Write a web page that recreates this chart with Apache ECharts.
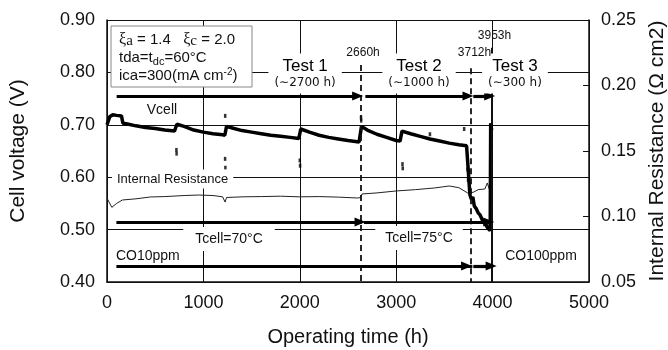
<!DOCTYPE html>
<html>
<head>
<meta charset="utf-8">
<script src="https://cdn.jsdelivr.net/npm/echarts@6/dist/echarts.min.js"></script>
<style>
  html, body { margin: 0; padding: 0; background: #fff; }
  #chart { width: 668px; height: 350px; }
</style>
</head>
<body>
<div id="chart"></div>
<script>
// 电压曲线 [运行时间 h, 电压 V]
var vcell = [
  [0, 0.700], [20, 0.701], [30, 0.716], [60, 0.719], [100, 0.718], [150, 0.717], [165, 0.703],
  [200, 0.702], [300, 0.698], [400, 0.695], [500, 0.693], [600, 0.690], [700, 0.688], [715, 0.687],
  [725, 0.701], [800, 0.697], [900, 0.690], [1000, 0.686], [1100, 0.683], [1200, 0.681], [1222, 0.680],
  [1240, 0.697], [1300, 0.694], [1400, 0.689], [1500, 0.686], [1600, 0.683], [1700, 0.680],
  [1800, 0.678], [1900, 0.676], [1990, 0.674], [2010, 0.692], [2100, 0.686], [2200, 0.680], [2300, 0.676],
  [2400, 0.673], [2500, 0.670], [2615, 0.667], [2640, 0.697], [2700, 0.690], [2800, 0.682],
  [2900, 0.676], [3000, 0.670], [3040, 0.669], [3060, 0.688], [3150, 0.683], [3250, 0.678], [3350, 0.673],
  [3450, 0.669], [3550, 0.665], [3650, 0.662], [3730, 0.660], [3745, 0.620], [3755, 0.592], [3765, 0.566],
  [3780, 0.558], [3795, 0.562], [3810, 0.545], [3830, 0.540], [3850, 0.532], [3870, 0.528], [3895, 0.518],
  [3920, 0.512], [3950, 0.503], [3975, 0.498], [3980, 0.703], [3990, 0.690]
];
// 电压离散点
var vcellDots = [
  [720, 0.652], [722, 0.645], [1225, 0.635], [1228, 0.618], [1226, 0.717], [2000, 0.632], [2003, 0.622],
  [2635, 0.714], [2637, 0.708], [3065, 0.625], [3068, 0.617], [3350, 0.682], [3705, 0.692],
  [3740, 0.615], [3745, 0.595]
];
// 内阻曲线 [运行时间 h, 内阻 Ω cm2]
var resistance = [
  [0, 0.114], [50, 0.107], [100, 0.110], [160, 0.1126], [300, 0.1135], [450, 0.1149], [600, 0.1152],
  [800, 0.1160], [950, 0.1164], [1100, 0.1160], [1200, 0.1150], [1225, 0.111], [1240, 0.1145],
  [1400, 0.1150], [1600, 0.1152], [1800, 0.1155], [2000, 0.1150], [2200, 0.1152], [2400, 0.1148],
  [2600, 0.1141], [2630, 0.1145], [2645, 0.1172], [2800, 0.1180], [3000, 0.1195], [3200, 0.1205],
  [3400, 0.1218], [3550, 0.1233], [3650, 0.1220], [3740, 0.1180], [3800, 0.1185], [3850, 0.1205],
  [3920, 0.1210], [3945, 0.1256], [3965, 0.1210]
];
// 阶段箭头 [起点 h, 终点 h, 电压位置]
var arrowsTop = [[100, 2600, 0.755], [2680, 3745, 0.755], [3800, 3970, 0.755]];
var arrowsTcell = [[100, 2625, 0.5145], [2665, 3960, 0.5145]];
var arrowsCO = [[100, 3730, 0.4305], [3800, 3985, 0.4305]];
var arrowLines = [[100, 2640, 0.5145], [100, 3790, 0.4305]];
// 切换时刻虚线 [h, 顶端电压]
var markerDashed = [[2635, 0.814], [3775, 0.808]];
var markerSolid = [[3990, 0.847]];
// 阶段标签
var testNames = ['Test 1', 'Test 2', 'Test 3'];
var testHours = ['(∼2700 h)', '(∼1000 h)', '(∼300 h)'];
var testCenters = [2055, 3237, 4232];
var hourLabels = [['2660h', 2656, 0.837], ['3712h', 3812, 0.837], ['3953h', 4020, 0.871]];

var chart = echarts.init(document.getElementById('chart'));
var FONT = 'Liberation Sans, Arial, DejaVu Sans, sans-serif';

function arrowData(list) {
  return list.map(function (a) {
    return [{ coord: [a[0], a[2]], symbol: 'none' }, { coord: [a[1], a[2]], symbol: 'triangle' }];
  });
}
function plainData(list) {
  return list.map(function (a) {
    return [{ coord: [a[0], a[2]], symbol: 'none' }, { coord: [a[1], a[2]], symbol: 'none' }];
  });
}
function vertData(list) {
  return list.map(function (m) {
    return [{ coord: [m[0], m[1]] }, { coord: [m[0], 0.40] }];
  });
}

chart.setOption({
  animation: false,
  grid: { left: 107, right: 79, top: 20, bottom: 68, outerBoundsMode: 'none', containLabel: false },
  textStyle: { fontFamily: FONT },
  xAxis: {
    type: 'value', min: 0, max: 5000, interval: 1000,
    name: 'Operating time (h)', nameLocation: 'middle', nameGap: 45,
    nameTextStyle: { fontSize: 20, color: '#111', fontFamily: FONT },
    axisLine: { lineStyle: { color: '#111', width: 1.5 } },
    axisTick: { show: false },
    axisLabel: { fontSize: 18, color: '#111', margin: 12, fontFamily: FONT,
      formatter: function (v) { return String(v); } },
    splitLine: { show: true, lineStyle: { color: '#111', width: 1 } }
  },
  yAxis: [{
    type: 'value', min: 0.4, max: 0.9, interval: 0.1,
    name: 'Cell voltage (V)', nameLocation: 'middle', nameGap: 78, nameRotate: 90,
    nameTextStyle: { fontSize: 21, color: '#111', fontFamily: FONT },
    axisLine: { show: true, lineStyle: { color: '#111', width: 1.5 } },
    axisTick: { show: false },
    axisLabel: { fontSize: 18, color: '#111', margin: 12, fontFamily: FONT,
      formatter: function (v) { return v.toFixed(2); } },
    splitLine: { show: true, lineStyle: { color: '#111', width: 1 } }
  }, {
    type: 'value', min: 0.05, max: 0.25, interval: 0.05, position: 'right',
    name: 'Internal Resistance (Ω cm2)', nameLocation: 'middle', nameGap: 55, nameRotate: 90,
    nameTextStyle: { fontSize: 21, color: '#111', fontFamily: FONT },
    axisLine: { show: true, lineStyle: { color: '#111', width: 1.5 } },
    axisTick: { show: true, inside: true, length: 6, lineStyle: { color: '#111' } },
    axisLabel: { fontSize: 18, color: '#111', margin: 12, fontFamily: FONT,
      formatter: function (v) { return v.toFixed(2); } },
    splitLine: { show: false }
  }],
  series: [{
    name: 'markers', type: 'line', data: [], silent: true,
    markLine: {
      silent: true, symbol: 'none', label: { show: false },
      data: vertData(markerDashed),
      lineStyle: { color: '#111', width: 1.8, type: [6, 4] }
    }
  }, {
    name: 'markerSolid', type: 'line', data: [], silent: true,
    markLine: {
      silent: true, symbol: 'none', label: { show: false },
      data: vertData(markerSolid),
      lineStyle: { color: '#111', width: 1, type: 'solid' }
    }
  }, {
    name: 'Internal Resistance', type: 'line', yAxisIndex: 1, data: resistance,
    showSymbol: false, lineStyle: { color: '#222', width: 1 }
  }, {
    name: 'Vcell', type: 'line', data: vcell, showSymbol: false,
    lineStyle: { color: '#000', width: 3.5 }
  }, {
    name: 'Vcell dots', type: 'scatter', data: vcellDots, symbol: 'rect',
    symbolSize: [2.5, 4], itemStyle: { color: '#000' }
  }, {
    name: 'arrows', type: 'line', data: [], silent: true,
    markLine: {
      silent: true, label: { show: false }, symbolSize: [9, 11],
      data: arrowData(arrowsTop.concat(arrowsTcell, arrowsCO)).concat(plainData(arrowLines)),
      lineStyle: { color: '#000', width: 3.2, type: 'solid' }
    }
  }]
});

function px(h, v) { return chart.convertToPixel({ xAxisIndex: 0, yAxisIndex: 0 }, [h, v]); }

function label(text, h, v, size, opts) {
  var p = px(h, v);
  opts = opts || {};
  return {
    type: 'text', x: p[0], y: p[1], z: 100,
    style: {
      text: text, font: size + 'px ' + FONT, fill: '#111',
      align: opts.align || 'center', verticalAlign: 'middle',
      backgroundColor: opts.bg ? '#fff' : null,
      padding: opts.padding || 0
    }
  };
}

var graphics = [];
// 参数框
graphics.push({
  type: 'rect', z: 100, shape: { x: 111, y: 26, width: 141, height: 61 },
  style: { fill: '#fff', stroke: '#888', lineWidth: 1 }
});
graphics.push({
  type: 'text', z: 101, x: 119, y: 31,
  style: {
    text: '{g|ξ}{s|a}{n| = 1.4   }{g|ξ}{s|c}{n| = 2.0}\n{n|tda=t}{sub|dc}{n|=60°C}\n{n|ica=300(mA cm}{sup|-2}{n|)}',
    font: '15px ' + FONT, fill: '#111',
    rich: {
      n: { fontSize: 15, fontFamily: FONT, lineHeight: 18, fill: '#111' },
      g: { fontSize: 16, fontFamily: 'Liberation Serif, serif', lineHeight: 18, fill: '#111' },
      s: { fontSize: 15, fontFamily: 'Liberation Serif, serif', lineHeight: 18, fill: '#111', verticalAlign: 'bottom' },
      sub: { fontSize: 11, fontFamily: FONT, lineHeight: 18, fill: '#111', verticalAlign: 'bottom' },
      sup: { fontSize: 10, fontFamily: FONT, lineHeight: 18, fill: '#111', verticalAlign: 'top' }
    }
  }
});
// Test 标签
testNames.forEach(function (t, i) {
  var p = px(testCenters[i], 0.798);
  graphics.push({
    type: 'text', z: 100, x: p[0], y: p[1],
    style: {
      text: '{t|' + t + '}\n{h|' + testHours[i] + '}',
      align: 'center', verticalAlign: 'middle', backgroundColor: '#fff',
      padding: [3, 6, 3, 6], fill: '#111',
      rich: {
        t: { fontSize: 17, fontFamily: FONT, lineHeight: 19, fill: '#000', align: 'center' },
        h: { fontSize: 12, fontFamily: 'DejaVu Sans, ' + FONT, lineHeight: 15, fill: '#111', align: 'center' }
      }
    }
  });
});
hourLabels.forEach(function (l) { graphics.push(label(l[0], l[1], l[2], 12)); });
graphics.push(label('Vcell', 570, 0.728, 14));
graphics.push(label('Internal Resistance', 52, 0.5966, 13, { align: 'left', bg: true, padding: [3, 5] }));
graphics.push(label('Tcell=70°C', 1266, 0.482, 14, { bg: true, padding: [5, 12] }));
graphics.push(label('Tcell=75°C', 3237, 0.484, 14, { bg: true, padding: [5, 10] }));
graphics.push(label('CO10ppm', 93, 0.4496, 14, { align: 'left' }));
graphics.push(label('CO100ppm', 4502, 0.4496, 14));

chart.setOption({ graphic: graphics });
</script>
</body>
</html>
